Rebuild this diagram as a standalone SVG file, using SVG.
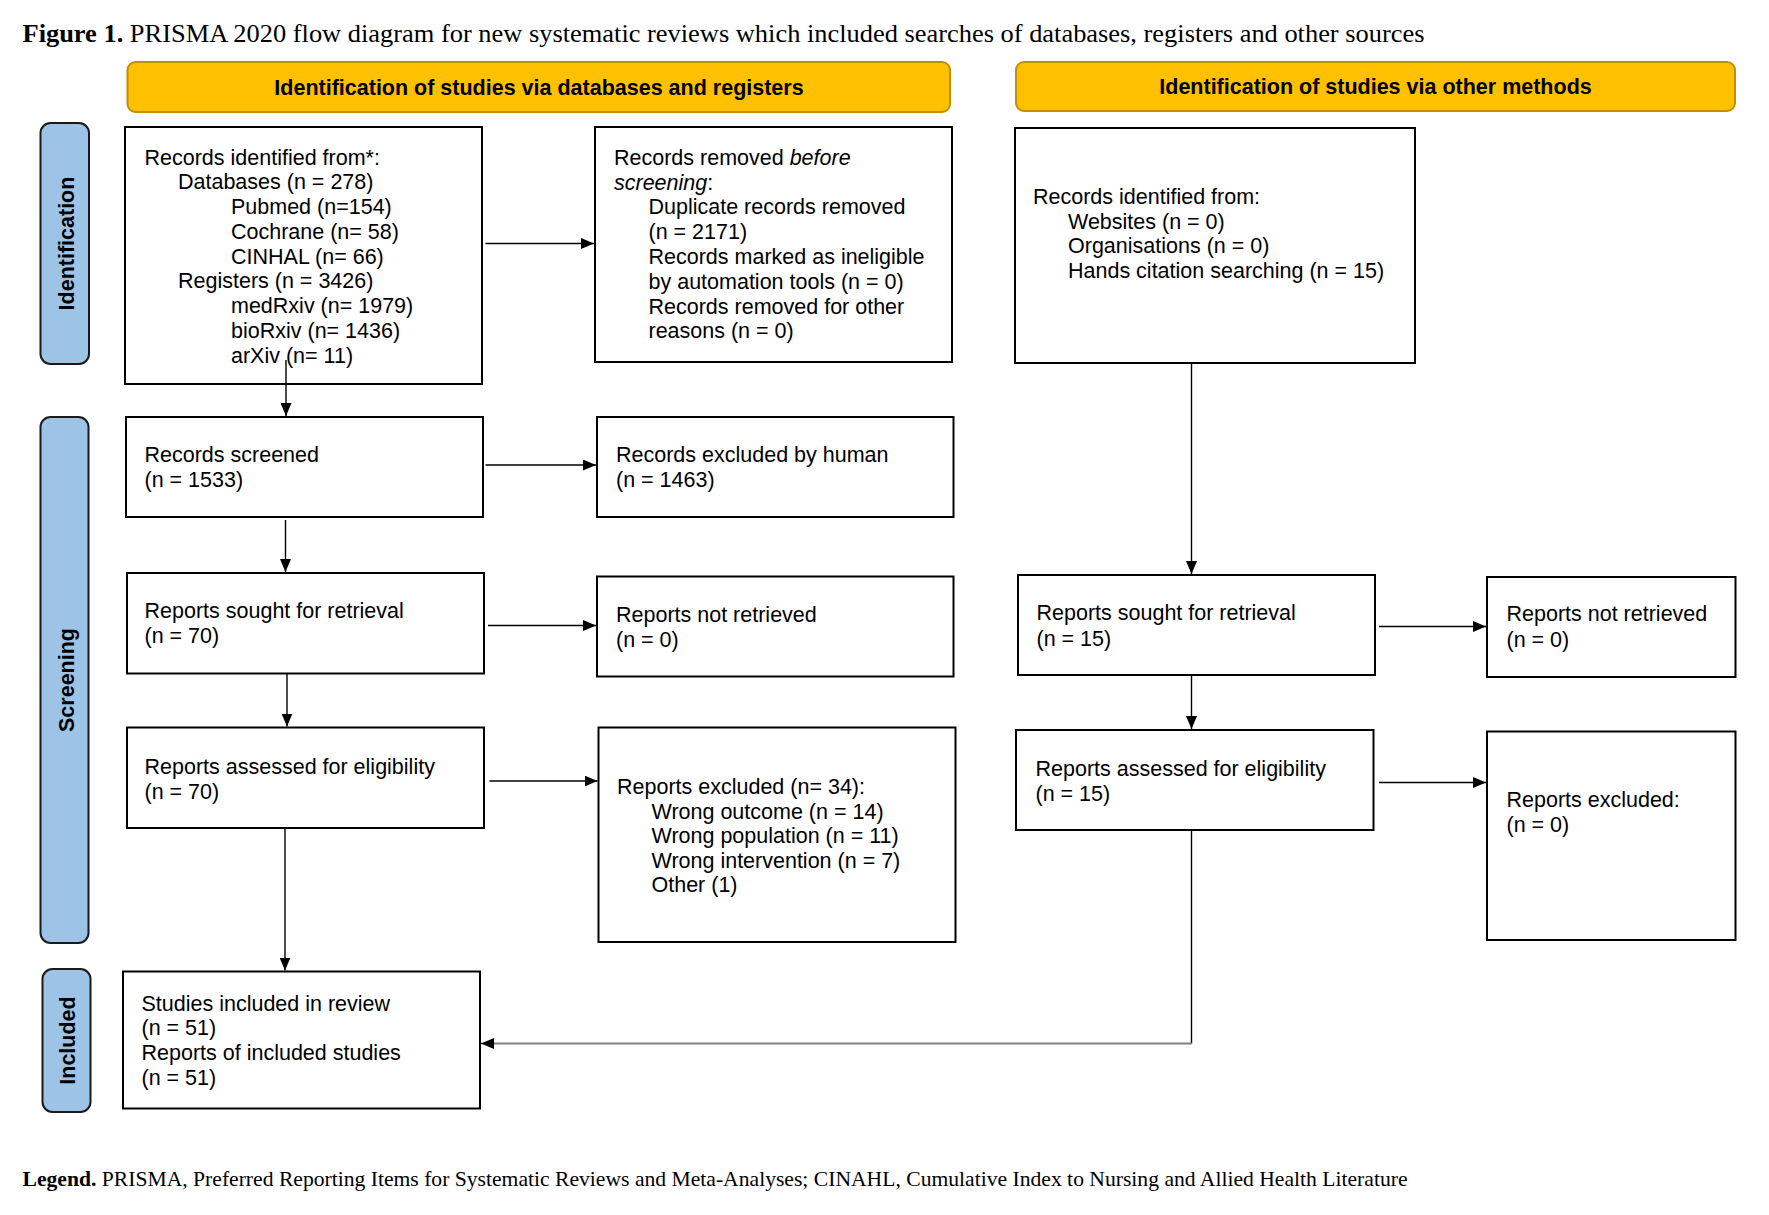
<svg xmlns="http://www.w3.org/2000/svg" width="1769" height="1215" viewBox="0 0 1769 1215">
<style>
.bg{fill:#ffffff}
.box{fill:#ffffff;stroke:#000000;stroke-width:2}
.hdr{fill:#FFC000;stroke:#BF9000;stroke-width:2}
.bar{fill:#9DC3E6;stroke:#1a1a1a;stroke-width:2}
.t{font-family:"Liberation Sans",Arial,sans-serif;font-size:21.5px;fill:#000}
.hb{font-family:"Liberation Sans",Arial,sans-serif;font-size:21.5px;font-weight:bold;fill:#000;text-anchor:middle}
.vb{font-family:"Liberation Sans",Arial,sans-serif;font-size:21.5px;font-weight:bold;fill:#000;text-anchor:middle}
.cap{font-family:"Liberation Serif","Times New Roman",serif;fill:#000}
.c{fill:none;stroke:#000;stroke-width:1.4}
.g{fill:none;stroke:#808080;stroke-width:1.8}
</style>
<defs>
<marker id="ah" markerUnits="userSpaceOnUse" markerWidth="13" markerHeight="11" refX="13" refY="5.5" orient="auto">
<path d="M0,0 L13,5.5 L0,11 z" fill="#000"/>
</marker>
</defs>
<rect class="bg" x="0" y="0" width="1769" height="1215"/>

<text class="cap" x="22.5" y="42" font-size="25.5" textLength="1402" lengthAdjust="spacingAndGlyphs"><tspan font-weight="bold">Figure 1.</tspan> PRISMA 2020 flow diagram for new systematic reviews which included searches of databases, registers and other sources</text>

<g id="header-databases">
<rect class="hdr" x="127.5" y="62" width="822.5" height="50" rx="8"/>
<text class="hb" x="539" y="94.5">Identification of studies via databases and registers</text>
</g>
<g id="header-other">
<rect class="hdr" x="1016" y="62" width="719" height="49" rx="8"/>
<text class="hb" x="1375.5" y="94">Identification of studies via other methods</text>
</g>

<g id="bar-identification">
<rect class="bar" x="40.5" y="123" width="48.5" height="241" rx="10"/>
<text class="vb" transform="translate(73.5,243.5) rotate(-90)">Identification</text>
</g>
<g id="bar-screening">
<rect class="bar" x="40.5" y="417" width="48" height="526" rx="10"/>
<text class="vb" transform="translate(73.5,680) rotate(-90)">Screening</text>
</g>
<g id="bar-included">
<rect class="bar" x="42.5" y="969" width="48" height="143" rx="10"/>
<text class="vb" transform="translate(75,1040.5) rotate(-90)">Included</text>
</g>

<g id="box-records-identified">
<rect class="box" x="125" y="127" width="357" height="257"/>
<text class="t"><tspan x="144.5" y="164.5">Records identified from*:</tspan><tspan x="178" y="189.3">Databases (n = 278)</tspan><tspan x="231" y="214">Pubmed (n=154)</tspan><tspan x="231" y="238.8">Cochrane (n= 58)</tspan><tspan x="231" y="263.5">CINHAL (n= 66)</tspan><tspan x="178" y="288.3">Registers (n = 3426)</tspan><tspan x="231" y="313">medRxiv (n= 1979)</tspan><tspan x="231" y="337.8">bioRxiv (n= 1436)</tspan><tspan x="231" y="362.5">arXiv (n= 11)</tspan></text>
</g>

<g id="box-records-removed">
<rect class="box" x="595" y="127" width="357" height="235"/>
<text class="t"><tspan x="614" y="164.5">Records removed <tspan font-style="italic">before</tspan></tspan><tspan x="614" y="189.5"><tspan font-style="italic">screening</tspan>:</tspan><tspan x="648.5" y="214.3">Duplicate records removed</tspan><tspan x="648.5" y="239.2">(n = 2171)</tspan><tspan x="648.5" y="264">Records marked as ineligible</tspan><tspan x="648.5" y="288.8">by automation tools (n = 0)</tspan><tspan x="648.5" y="313.6">Records removed for other</tspan><tspan x="648.5" y="338.4">reasons (n = 0)</tspan></text>
</g>

<g id="box-other-identified">
<rect class="box" x="1015" y="128" width="400" height="235"/>
<text class="t"><tspan x="1033" y="204">Records identified from:</tspan><tspan x="1068" y="228.5">Websites (n = 0)</tspan><tspan x="1068" y="253">Organisations (n = 0)</tspan><tspan x="1068" y="277.5">Hands citation searching (n = 15)</tspan></text>
</g>

<g id="box-records-screened">
<rect class="box" x="126" y="417" width="357" height="100"/>
<text class="t"><tspan x="144.5" y="462">Records screened</tspan><tspan x="144.5" y="487">(n = 1533)</tspan></text>
</g>

<g id="box-records-excluded">
<rect class="box" x="597" y="417" width="356.5" height="100"/>
<text class="t"><tspan x="616" y="462">Records excluded by human</tspan><tspan x="616" y="487">(n = 1463)</tspan></text>
</g>

<g id="box-sought-db">
<rect class="box" x="127" y="573" width="357" height="100.5"/>
<text class="t"><tspan x="144.5" y="618">Reports sought for retrieval</tspan><tspan x="144.5" y="643">(n = 70)</tspan></text>
</g>

<g id="box-not-retrieved-db">
<rect class="box" x="597" y="576.5" width="356.5" height="100"/>
<text class="t"><tspan x="616" y="621.5">Reports not retrieved</tspan><tspan x="616" y="646.5">(n = 0)</tspan></text>
</g>

<g id="box-assessed-db">
<rect class="box" x="127" y="727.5" width="357" height="100.5"/>
<text class="t"><tspan x="144.5" y="774">Reports assessed for eligibility</tspan><tspan x="144.5" y="799">(n = 70)</tspan></text>
</g>

<g id="box-excluded-db">
<rect class="box" x="598.5" y="727.5" width="357" height="214.5"/>
<text class="t"><tspan x="617" y="794">Reports excluded (n= 34):</tspan><tspan x="651.5" y="818.5">Wrong outcome (n = 14)</tspan><tspan x="651.5" y="843">Wrong population (n = 11)</tspan><tspan x="651.5" y="867.5">Wrong intervention (n = 7)</tspan><tspan x="651.5" y="892">Other (1)</tspan></text>
</g>

<g id="box-included">
<rect class="box" x="123" y="971.5" width="357" height="137"/>
<text class="t"><tspan x="141.5" y="1010.5">Studies included in review</tspan><tspan x="141.5" y="1035.2">(n = 51)</tspan><tspan x="141.5" y="1060">Reports of included studies</tspan><tspan x="141.5" y="1084.7">(n = 51)</tspan></text>
</g>

<g id="box-sought-other">
<rect class="box" x="1018" y="575" width="357" height="100"/>
<text class="t"><tspan x="1036.5" y="620">Reports sought for retrieval</tspan><tspan x="1036.5" y="645.5">(n = 15)</tspan></text>
</g>

<g id="box-not-retrieved-other">
<rect class="box" x="1487" y="577" width="248.5" height="100"/>
<text class="t"><tspan x="1506.5" y="621">Reports not retrieved</tspan><tspan x="1506.5" y="647">(n = 0)</tspan></text>
</g>

<g id="box-assessed-other">
<rect class="box" x="1016" y="730" width="357.5" height="100"/>
<text class="t"><tspan x="1035.5" y="776">Reports assessed for eligibility</tspan><tspan x="1035.5" y="800.5">(n = 15)</tspan></text>
</g>

<g id="box-excluded-other">
<rect class="box" x="1487" y="731.5" width="248.5" height="208.5"/>
<text class="t"><tspan x="1506.5" y="806.5">Reports excluded:</tspan><tspan x="1506.5" y="832">(n = 0)</tspan></text>
</g>

<g id="connectors">
<line class="c" x1="485.5" y1="243.5" x2="594" y2="243.5" marker-end="url(#ah)"/>
<line class="c" x1="286" y1="360" x2="286" y2="416" marker-end="url(#ah)"/>
<line class="c" x1="485.5" y1="465" x2="596" y2="465" marker-end="url(#ah)"/>
<line class="c" x1="285.5" y1="520" x2="285.5" y2="572" marker-end="url(#ah)"/>
<line class="c" x1="488" y1="625.5" x2="596" y2="625.5" marker-end="url(#ah)"/>
<line class="c" x1="287" y1="673.5" x2="287" y2="726.5" marker-end="url(#ah)"/>
<line class="c" x1="489.5" y1="781" x2="597.5" y2="781" marker-end="url(#ah)"/>
<line class="c" x1="285" y1="828" x2="285" y2="970.5" marker-end="url(#ah)"/>
<line class="c" x1="1191.5" y1="363" x2="1191.5" y2="574" marker-end="url(#ah)"/>
<line class="c" x1="1379" y1="626.5" x2="1486" y2="626.5" marker-end="url(#ah)"/>
<line class="c" x1="1191.5" y1="675" x2="1191.5" y2="729" marker-end="url(#ah)"/>
<line class="c" x1="1379" y1="782.5" x2="1486" y2="782.5" marker-end="url(#ah)"/>
<line class="c" x1="1191.5" y1="830" x2="1191.5" y2="1043.5"/>
<line class="g" x1="1191.5" y1="1043.5" x2="492" y2="1043.5"/>
<line class="c" x1="494" y1="1043.5" x2="481" y2="1043.5" marker-end="url(#ah)"/>
</g>

<text class="cap" x="22.5" y="1186" font-size="21.5" textLength="1385" lengthAdjust="spacingAndGlyphs"><tspan font-weight="bold">Legend.</tspan> PRISMA, Preferred Reporting Items for Systematic Reviews and Meta-Analyses; CINAHL, Cumulative Index to Nursing and Allied Health Literature</text>
</svg>
